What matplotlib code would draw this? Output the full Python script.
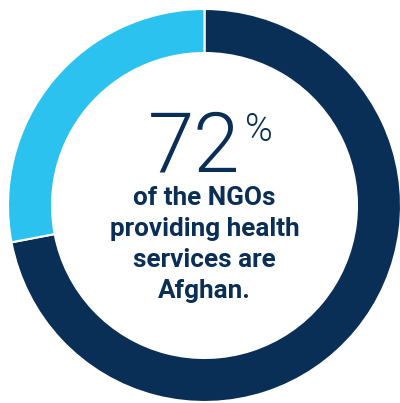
import matplotlib.pyplot as plt
from matplotlib.patches import Wedge

share = [72, 28]
colors = ["#0a2f57", "#2cc2ef"]
big_number = "72"
caption = ["of the NGOs", "providing health", "services are", "Afghan."]

fig = plt.figure(figsize=(4.0, 4.03), dpi=100)
ax = fig.add_axes([0, 0, 1, 1])
ax.set_xlim(0, 400)
ax.set_ylim(403, 0)
ax.axis("off")

cx, cy, r, w = 204.5, 205.5, 196.5, 44
start = -90
for val, col in zip(share, colors):
    # y axis is flipped, so increasing angle runs clockwise from the top
    end = start + val / sum(share) * 360
    ax.add_patch(Wedge((cx, cy), r, start, end, width=w, facecolor=col,
                       edgecolor="white", linewidth=1.5))
    start = end

ax.text(194, 171, big_number, ha="center", va="baseline", fontsize=60,
        family="Roboto", fontweight=300, color=colors[0])
ax.text(259, 141, "%", ha="center", va="baseline", fontsize=27,
        family="Roboto", fontweight=300, color=colors[0])

for i, line in enumerate(caption):
    ax.text(cx, 205 + i * 31, line, ha="center", va="baseline", fontsize=18.8,
            family="Roboto", fontweight="bold", color=colors[0])

plt.savefig("out.png", dpi=100)
